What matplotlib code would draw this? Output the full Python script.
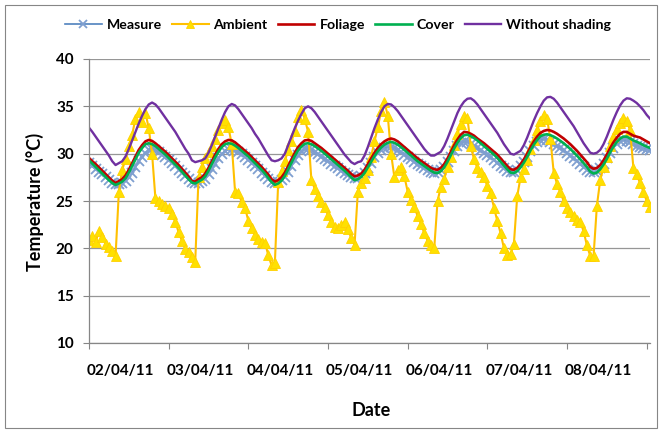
import pandas as pd
import matplotlib
matplotlib.use('Agg')
import matplotlib.pyplot as plt
from matplotlib.patches import Rectangle

# hourly readings, starting 02/04/11 00:00
measure = [
    29.0, 28.7, 28.4, 28.1, 27.8, 27.5, 27.2, 26.95, 26.8, 26.8, 26.9, 27.1,
    27.5, 28.0, 28.6, 29.2, 29.7, 30.1, 30.35, 30.45, 30.35, 30.15, 29.9, 29.6,
    29.3, 29.0, 28.65, 28.3, 27.95, 27.6, 27.3, 27.05, 26.9, 26.95, 27.1, 27.35,
    27.8, 28.35, 28.95, 29.5, 29.95, 30.3, 30.45, 30.5, 30.4, 30.2, 29.95, 29.65,
    29.35, 29.05, 28.7, 28.35, 28.0, 27.65, 27.3, 27.05, 26.95, 27.0, 27.2, 27.55,
    28.1, 28.7, 29.3, 29.85, 30.25, 30.45, 30.5, 30.4, 30.2, 29.95, 29.7, 29.45,
    29.2, 28.95, 28.7, 28.45, 28.2, 27.95, 27.7, 27.5, 27.4, 27.45, 27.65, 28.0,
    28.5, 29.05, 29.6, 30.05, 30.4, 30.6, 30.7, 30.7, 30.6, 30.4, 30.15, 29.9,
    29.65, 29.4, 29.15, 28.9, 28.65, 28.45, 28.25, 28.1, 28.0, 28.05, 28.25, 28.6,
    29.1, 29.7, 30.3, 30.8, 31.1, 31.25, 31.2, 31.05, 30.85, 30.6, 30.35, 30.1,
    29.85, 29.6, 29.35, 29.05, 28.75, 28.45, 28.2, 28.05, 28.1, 28.3, 28.65, 29.1,
    29.65, 30.25, 30.8, 31.2, 31.45, 31.5, 31.4, 31.25, 31.05, 30.85, 30.6, 30.35,
    30.1, 29.8, 29.5, 29.2, 28.9, 28.6, 28.3, 28.1, 28.05, 28.2, 28.5, 28.95,
    29.5, 30.1, 30.65, 31.05, 31.3, 31.4, 31.35, 31.2, 31.0, 30.85, 30.7, 30.55,
    30.45, 30.35,
]
ambient = [
    20.9, 21.3, 20.7, 21.8, 21.2, 20.5, 20.1, 19.7, 19.2, 26.0, 28.3, 29.4,
    30.8, 32.0, 33.7, 34.4, 33.3, 34.3, 32.7, 30.0, 25.3, 25.0, 24.7, 24.5,
    24.3, 23.6, 22.8, 21.7, 20.8, 19.9, 19.6, 19.1, 18.6, 27.5, 28.6, 29.5,
    30.2, 30.8, 31.6, 32.5, 33.2, 33.6, 32.8, 31.0, 26.0, 25.8, 24.9, 24.3,
    22.9, 22.1, 21.4, 21.0, 20.7, 20.6, 19.3, 18.2, 18.5, 27.0, 28.2, 29.2,
    30.4, 31.3, 32.4, 33.9, 34.6, 33.7, 32.3, 27.2, 26.3, 25.5, 24.9, 24.4,
    23.5, 22.8, 22.3, 22.1, 22.5, 22.8, 22.0, 21.1, 20.4, 26.0, 26.9, 27.4,
    28.3, 29.7, 31.3, 32.8, 34.5, 35.5, 34.0, 30.0, 27.5, 28.3, 28.6, 27.6,
    26.0, 25.1, 24.4, 23.4, 22.6, 21.6, 20.8, 20.3, 20.0, 25.0, 26.5, 27.3,
    28.6, 29.6, 30.9, 32.1, 33.1, 34.0, 33.8, 30.8, 29.4, 28.5, 28.1, 27.5,
    26.6, 25.8, 24.3, 22.9, 21.6, 20.0, 19.3, 19.4, 20.5, 25.5, 27.5, 28.4,
    29.3, 30.5, 31.4, 32.5, 33.4, 34.1, 33.7, 31.5, 28.0, 26.8, 25.9, 25.0,
    24.3, 23.8, 23.4, 23.0, 22.8, 21.8, 20.3, 19.2, 19.2, 24.5, 27.2, 28.6,
    29.7, 30.8, 31.8, 32.6, 33.2, 33.8, 33.4, 32.5, 28.5, 27.8, 26.9, 26.0,
    25.0, 24.4,
]
foliage = [
    29.55, 29.2, 28.9, 28.55, 28.2, 27.85, 27.5, 27.15, 26.9, 27.1, 27.3, 27.7,
    28.3, 29.0, 29.7, 30.4, 30.9, 31.3, 31.45, 31.35, 31.1, 30.8, 30.5, 30.2,
    29.85, 29.5, 29.15, 28.8, 28.4, 28.0, 27.6, 27.1, 27.05, 27.3, 27.5, 27.9,
    28.5, 29.2, 29.9, 30.5, 31.0, 31.3, 31.45, 31.4, 31.2, 30.9, 30.6, 30.3,
    30.0, 29.65, 29.3, 28.95, 28.6, 28.2, 27.8, 27.3, 27.05, 27.2, 27.5, 28.0,
    28.7, 29.4, 30.1, 30.7, 31.1, 31.4, 31.45, 31.35, 31.1, 30.85, 30.6, 30.3,
    30.0, 29.7, 29.4, 29.1, 28.8, 28.5, 28.2, 27.85, 27.6, 27.7, 27.9, 28.3,
    28.9, 29.5, 30.1, 30.6, 31.0, 31.3, 31.5, 31.6, 31.5, 31.3, 31.0, 30.7,
    30.4, 30.1, 29.8, 29.5, 29.25, 29.0, 28.75, 28.5, 28.35, 28.3, 28.5, 28.9,
    29.5, 30.2, 30.9, 31.5, 32.0, 32.3, 32.25, 32.1, 31.9, 31.6, 31.35, 31.1,
    30.8, 30.5, 30.2, 29.9, 29.5, 29.1, 28.7, 28.35, 28.3, 28.5, 28.9, 29.4,
    30.0, 30.7, 31.3, 31.8, 32.2, 32.4, 32.5, 32.45, 32.3, 32.1, 31.85, 31.6,
    31.3, 31.0, 30.65, 30.3, 29.9, 29.5, 29.1, 28.6, 28.4, 28.5, 28.8, 29.3,
    29.9, 30.6, 31.2, 31.7, 32.1, 32.3, 32.3, 32.1, 31.9, 31.8, 31.7, 31.5,
    31.3, 31.1,
]
cover = [
    29.3, 28.95, 28.6, 28.25, 27.9, 27.55, 27.2, 26.9, 26.7, 26.85, 27.05, 27.4,
    28.0, 28.7, 29.4, 30.1, 30.6, 31.0, 31.1, 31.0, 30.8, 30.5, 30.2, 29.9,
    29.55, 29.2, 28.85, 28.5, 28.1, 27.7, 27.3, 26.95, 26.85, 27.05, 27.25, 27.6,
    28.2, 28.9, 29.6, 30.2, 30.7, 31.0, 31.1, 31.05, 30.85, 30.6, 30.3, 30.0,
    29.7, 29.35, 29.0, 28.65, 28.3, 27.9, 27.45, 27.0, 26.7, 26.85, 27.15, 27.65,
    28.35, 29.05, 29.75, 30.35, 30.75, 31.05, 31.1, 31.0, 30.8, 30.55, 30.3, 30.0,
    29.7, 29.4, 29.1, 28.8, 28.5, 28.2, 27.85, 27.5, 27.2, 27.3, 27.55, 27.95,
    28.55, 29.15, 29.75, 30.25, 30.65, 30.95, 31.15, 31.25, 31.15, 30.95, 30.7, 30.4,
    30.1, 29.8, 29.5, 29.2, 28.95, 28.7, 28.45, 28.2, 28.0, 27.95, 28.15, 28.55,
    29.15, 29.85, 30.55, 31.15, 31.65, 31.95, 32.0, 31.85, 31.65, 31.4, 31.1, 30.8,
    30.5, 30.2, 29.9, 29.55, 29.15, 28.75, 28.35, 28.0, 27.95, 28.15, 28.55, 29.05,
    29.65, 30.35, 30.95, 31.45, 31.85, 32.0, 32.05, 31.95, 31.8, 31.6, 31.35, 31.1,
    30.8, 30.5, 30.15, 29.8, 29.4, 29.0, 28.6, 28.1, 27.9, 28.0, 28.35, 28.85,
    29.45, 30.15, 30.75, 31.25, 31.6, 31.8, 31.8, 31.6, 31.4, 31.25, 31.1, 30.9,
    30.75, 30.6,
]
no_shading = [
    32.75, 32.3, 31.8, 31.3, 30.8, 30.3, 29.8, 29.2, 28.8, 29.0, 29.2, 29.7,
    30.5, 31.4, 32.3, 33.2, 34.0, 34.7, 35.2, 35.4, 35.2, 34.8, 34.3, 33.8,
    33.3, 32.8, 32.3, 31.7, 31.1, 30.5, 30.0, 29.3, 29.1, 29.2, 29.3, 29.5,
    30.1, 30.9, 31.8, 32.7, 33.6, 34.4, 35.0, 35.25, 35.1, 34.7, 34.2, 33.7,
    33.2, 32.7, 32.1, 31.6, 31.0, 30.4, 29.8, 29.3, 29.2, 29.3, 29.5, 30.0,
    30.9, 31.8, 32.7, 33.5, 34.2, 34.8, 35.0, 34.8, 34.4, 33.9, 33.4, 32.9,
    32.4, 31.9, 31.4, 30.9, 30.4, 29.9, 29.5, 29.1, 28.9, 29.1, 29.2, 29.8,
    30.7, 31.7, 32.7, 33.6, 34.4, 35.0, 35.25, 35.2, 34.9, 34.5, 34.0, 33.5,
    33.0, 32.5, 32.0, 31.5, 31.0, 30.5, 30.1, 29.8, 29.8, 30.0, 30.2, 30.8,
    31.6, 32.5, 33.4, 34.3, 35.0, 35.5, 35.8, 35.85, 35.6, 35.2, 34.7, 34.2,
    33.7, 33.2, 32.7, 32.2, 31.6, 31.0, 30.5, 30.0, 29.9, 30.1, 30.3, 30.9,
    31.7, 32.6, 33.5, 34.3, 35.0, 35.6, 35.95, 36.0, 35.8, 35.4, 34.9, 34.4,
    33.9, 33.4, 32.9, 32.3, 31.7, 31.1, 30.6, 30.1, 30.0, 30.1, 30.4, 31.0,
    31.8, 32.7, 33.6, 34.4, 35.1, 35.6, 35.85, 35.8, 35.6, 35.35, 35.0, 34.6,
    34.1, 33.7,
]

day_labels = ['02/04/11', '03/04/11', '04/04/11', '05/04/11',
              '06/04/11', '07/04/11', '08/04/11']
yticks = [10, 15, 20, 25, 30, 35, 40]

start = pd.Timestamp('2011-04-02 00:00')
times = pd.date_range(start, periods=len(ambient), freq='h')

plt.rcParams['font.family'] = ['Lato', 'DejaVu Sans']
plt.rcParams['font.weight'] = 'bold'

fig = plt.figure(figsize=(6.62, 4.33), dpi=100)
ax = fig.add_axes([89 / 662, 1 - 343 / 433, 561 / 662, 284 / 433])

ax.plot(times, measure, color='#4F81BD', lw=1.2, marker='x', ms=6.5,
        mec='#7F9FD0', mew=1.3, label='Measure')
ax.plot(times, ambient, color='#FFC000', lw=1.5, marker='^', ms=6.5,
        mfc='#FFE000', mec='#FFD000', mew=0.6, label='Ambient')
ax.plot(times, foliage, color='#C00000', lw=1.9, label='Foliage')
ax.plot(times, cover, color='#00B050', lw=1.9, label='Cover')
ax.plot(times, no_shading, color='#7030A0', lw=1.7, label='Without shading')

ax.set_ylim(10, 40)
ax.set_yticks(yticks)
ax.set_xlim(start, start + pd.Timedelta(hours=169))

day_ticks = pd.date_range(start, periods=8, freq='D')
ax.set_xticks(day_ticks)
ax.set_xticklabels([''] * len(day_ticks))
label_pos = day_ticks[:-1] + pd.Timedelta(hours=9.5)
ax.set_xticks(label_pos, minor=True)
ax.set_xticklabels(day_labels, minor=True)

ax.grid(axis='y', color='#969696', lw=0.9)
ax.set_axisbelow(True)
for side in ['top', 'right']:
    ax.spines[side].set_visible(False)
for side in ['left', 'bottom']:
    ax.spines[side].set_color('#868686')
    ax.spines[side].set_linewidth(0.9)

ax.tick_params(axis='y', which='major', length=4, color='#868686',
               labelsize=11, pad=7)
ax.tick_params(axis='x', which='major', length=4, color='#868686')
ax.tick_params(axis='x', which='minor', length=0, labelsize=11, pad=15)

fig.text(35 / 662, 1 - 202 / 433, 'Temperature (°C)', rotation=90,
         ha='center', va='center', fontsize=13, fontweight='bold')
fig.text(371 / 662, 1 - 411 / 433, 'Date', ha='center', va='center',
         fontsize=13, fontweight='bold')

fig.legend(loc='center', bbox_to_anchor=(338 / 662, 1 - 25 / 433), ncol=5,
           frameon=False, fontsize=10.2, handlelength=2.6, handletextpad=0.35,
           columnspacing=0.7, borderaxespad=0, markerscale=0.8)

fig.patches.append(Rectangle((5 / 662, 5 / 433), 652 / 662, 423 / 433,
                             transform=fig.transFigure, fill=False,
                             edgecolor='#868686', lw=0.8))

fig.savefig('out.png', dpi=100)
